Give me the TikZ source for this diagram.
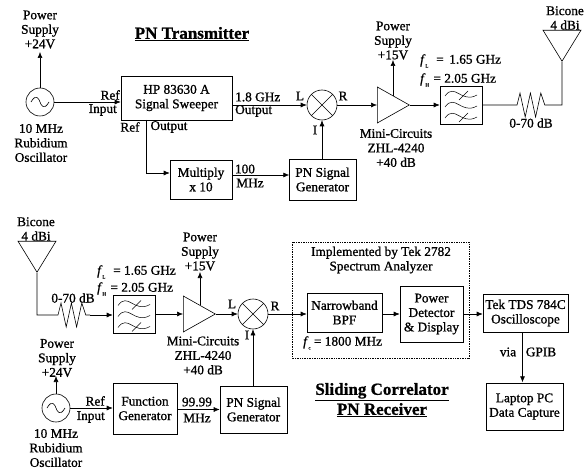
\documentclass[tikz,border=0pt]{standalone}
\usepackage{fontspec}
\setmainfont{Liberation Serif}[RawFeature={embolden=1}]
\usepackage{tikz}
\usetikzlibrary{arrows.meta,calc,positioning,shapes.geometric}
\newcommand{\fsub}[1]{\textit{f}\raisebox{-4pt}{\fontsize{5}{5}\selectfont #1}}
\tikzset{
  sig/.style={-{Latex[length=6pt,width=5pt]},line width=0.6pt},
  wire/.style={line width=0.6pt},
  blockbox/.style={draw,line width=0.6pt,align=center,inner sep=0pt,font=\fontsize{13.3}{14.5}\selectfont},
  lbl/.style={align=center,inner sep=0pt,font=\fontsize{13.3}{14.5}\selectfont},
  heading/.style={align=center,inner sep=0pt,font=\fontsize{17}{20}\selectfont\bfseries},
  circsym/.style={draw,circle,line width=0.6pt,minimum size=#1,inner sep=0pt},
  ampsym/.style={draw,line width=0.6pt,isosceles triangle,isosceles triangle stretches,
    minimum height=32pt,minimum width=36pt,inner sep=0pt,anchor=lower side},
  antsym/.style={draw,line width=0.6pt,isosceles triangle,isosceles triangle stretches,
    shape border rotate=-90,minimum height=31pt,minimum width=38pt,inner sep=0pt,anchor=apex},
}
\begin{document}
\begin{tikzpicture}[x=1pt,y=-1pt]
\useasboundingbox (0,0) rectangle (586,473);
% ---- PN transmitter ----
\node[heading] (txtitle) at (192,34) {\underline{PN Transmitter}};
\node[circsym=28pt] (txosc) at (40,102) {};
\node[blockbox,minimum width=111pt,minimum height=44pt] (sweeper) at (176.5,98) {HP 83630 A\\Signal Sweeper};
\node[blockbox,minimum width=62pt,minimum height=39pt] (mult) at (201,179.5) {Multiply\\x 10};
\node[blockbox,minimum width=67pt,minimum height=41pt] (txpn) at (322.5,179.5) {PN Signal\\Generator};
\node[circsym=30pt] (txmix) at (322,105) {};
\node[ampsym] (txamp) at (377,105) {};
\node[blockbox,minimum width=42pt,minimum height=38pt] (txfilt) at (461,105) {};
\node[antsym] (txant) at (562,62) {};
\coordinate (txr1) at (517,105);
\coordinate (txr2) at (548,105);
\coordinate (txbend) at (562,105);
\coordinate (txps) at (40,52);
\coordinate (txampt) at (393,96);
\coordinate (txamps) at (393,60);
\coordinate (txsw) at (146,120);
\coordinate (txmu) at (146,173);
% labels
\node[lbl] (txpwr) at (40,29.5) {Power\\Supply\\+24V};
\node[lbl] (txrb) at (41,143) {10 MHz\\Rubidium\\Oscillator};
\node[lbl,anchor=east] at (120,95) {Ref};
\node[lbl,anchor=east] at (117,110) {Input};
\node[lbl,anchor=west] at (235,97) {1.8 GHz};
\node[lbl,anchor=west] at (235,111) {Output};
\node[lbl] at (130,127) {Ref};
\node[lbl] at (169,127) {Output};
\node[lbl] at (245,169) {100};
\node[lbl] at (250,183) {MHz};
\node[lbl] at (300,96) {L};
\node[lbl] at (343,96) {R};
\node[lbl] at (315,130) {I};
\node[lbl] at (393,40.5) {Power\\Supply\\+15V};
\node[lbl] at (396,148) {Mini-Circuits\\ZHL-4240\\+40 dB};
\node[lbl,anchor=west] at (420,61) {\fsub{L}\,\, = \,1.65 GHz};
\node[lbl,anchor=west] at (420,80) {\fsub{H}\,\,= 2.05 GHz};
\node[lbl] at (531,123) {0-70 dB};
\node[lbl] at (565,18) {Bicone\\4 dBi};
% connectors
\draw[sig] (txosc) -- (txps);
\draw[sig] (txosc) -- (sweeper.west|-txosc);
\draw[sig] (sweeper.east|-txmix) -- (txmix);
\draw[wire] (txsw) -- (txmu);
\draw[sig] (txmu) -- (mult.west|-txmu);
\draw[sig] (mult.east|-txpn.west) ++(0,-4.5) -- ++(57,0);
\draw[sig] (txpn.north-|txmix) -- (txmix);
\draw[sig] (txmix) -- (txamp.lower side);
\draw[sig] (txampt) -- (txamps);
\draw[sig] (txamp.apex) -- (txfilt.west);
\draw[wire] (txfilt.east) -- (txr1) -- ++(3,-12) -- ++(5.2,24) -- ++(5.2,-24) -- ++(5.2,24) -- ++(5.2,-24) -- ++(4,12) -- (txr2) -- (txbend) -- (txant.apex);
% ---- sliding correlator receiver ----
\node[antsym] (rxant) at (37,273) {};
\node[blockbox,minimum width=42pt,minimum height=38pt] (rxfilt) at (134,314.5) {};
\node[ampsym] (rxamp) at (183,314) {};
\node[circsym=30pt] (rxmix) at (253,314) {};
\node[circsym=28pt] (rxosc) at (56,408) {};
\node[blockbox,minimum width=64pt,minimum height=51pt] (fgen) at (145,408.5) {Function\\Generator};
\node[blockbox,minimum width=67pt,minimum height=47pt] (rxpn) at (253.5,409.5) {PN Signal\\Generator};
\node[blockbox,minimum width=75pt,minimum height=39pt] (nbpf) at (344.5,312.5) {Narrowband\\BPF};
\node[blockbox,minimum width=63pt,minimum height=56pt] (pdet) at (431.5,314) {Power\\Detector\\\& Display};
\node[blockbox,minimum width=85pt,minimum height=38pt] (tek) at (525.5,313) {Tek TDS 784C\\Oscilloscope};
\node[blockbox,minimum width=77pt,minimum height=47pt] (laptop) at (524.5,406.5) {Laptop PC\\Data Capture};
\coordinate (rxbend) at (37,315);
\coordinate (rxr1) at (58,315);
\coordinate (rxr2) at (90,315);
\coordinate (rxps) at (56,376);
\coordinate (rxampt) at (200,305);
\coordinate (rxamps) at (200,272);
\draw[densely dotted,line width=0.7pt] (292,242) rectangle (469,358);
% labels
\node[lbl] at (36,229) {Bicone\\4 dBi};
\node[lbl] at (73,298) {0-70 dB};
\node[lbl,anchor=west] at (97,272) {\fsub{L}\,\, = 1.65 GHz};
\node[lbl,anchor=west] at (97,289) {\fsub{H}\,\,= 2.05 GHz};
\node[lbl] at (200,251.5) {Power\\Supply\\+15V};
\node[lbl] at (203,355.5) {Mini-Circuits\\ZHL-4240\\+40 dB};
\node[lbl] at (232,304) {L};
\node[lbl] at (275,306) {R};
\node[lbl] at (247,335) {I};
\node[lbl] at (57,358) {Power\\Supply\\+24V};
\node[lbl] at (56,448) {10 MHz\\Rubidium\\Oscillator};
\node[lbl,anchor=east] at (105,401) {Ref};
\node[lbl,anchor=east] at (105,417) {Input};
\node[lbl] at (197,402) {99.99};
\node[lbl] at (197,418) {MHz};
\node[lbl] at (381,260) {Implemented by Tek 2782\\Spectrum Analyzer};
\node[lbl,anchor=west] at (303,343) {\fsub{c} = 1800 MHz};
\node[lbl] at (508,352) {via};
\node[lbl] at (541,352) {GPIB};
\node[heading] (rxtitle) at (382,400) {\underline{Sliding Correlator}\\\underline{PN Receiver}};
% connectors
\draw[wire] (rxant.apex) -- (rxbend) -- (rxr1) -- ++(3,-12) -- ++(5.2,24) -- ++(5.2,-24) -- ++(5.2,24) -- ++(5.2,-24) -- ++(4,12) -- (rxr2);
\draw[sig] (rxr2) -- (rxfilt.west|-rxr2);
\draw[sig] (rxfilt.east|-rxamp) -- (rxamp.lower side);
\draw[sig] (rxampt) -- (rxamps);
\draw[sig] (rxamp.apex) -- (rxmix);
\draw[sig] (rxmix) -- (nbpf.west|-rxmix);
\draw[sig] (rxpn.north-|rxmix) -- (rxmix);
\draw[sig] (rxosc) -- (rxps);
\draw[sig] (rxosc) -- (fgen.west|-rxosc);
\draw[sig] (fgen.east|-rxpn) -- (rxpn.west);
\draw[sig] (nbpf.east|-pdet) -- (pdet.west);
\draw[sig] (pdet.east) -- (tek.west|-pdet);
\draw[sig] (tek.south-|laptop.north) ++(-2,0) -- ++(0,50);
% symbols inside the round nodes and filters
\foreach \mx in {txmix,rxmix}{
  \draw[wire] (\mx.45) -- (\mx.225) (\mx.135) -- (\mx.315);
}
\foreach \ox in {txosc,rxosc}{
  \draw[wire] ($(\ox)+(-9,0)$) .. controls ($(\ox)+(-4,-9)$) and ($(\ox)+(-1,-3)$) .. ($(\ox)$) .. controls ($(\ox)+(1,3)$) and ($(\ox)+(4,9)$) .. ($(\ox)+(9,0)$);
}
\foreach \fl in {txfilt,rxfilt}{
  \foreach \dy in {-11,0,11}{
    \draw[line width=0.5pt] ($(\fl)+(-16,\dy+2)$) .. controls ($(\fl)+(-6,\dy-12)$) and ($(\fl)+(0,\dy+10)$) .. ($(\fl)+(16,\dy+1)$);
  }
  \foreach \dy in {-11,11}{
    \draw[line width=0.5pt] ($(\fl)+(-2,\dy+6)$) -- ($(\fl)+(7,\dy-3)$);
  }
}
\end{tikzpicture}
\end{document}
